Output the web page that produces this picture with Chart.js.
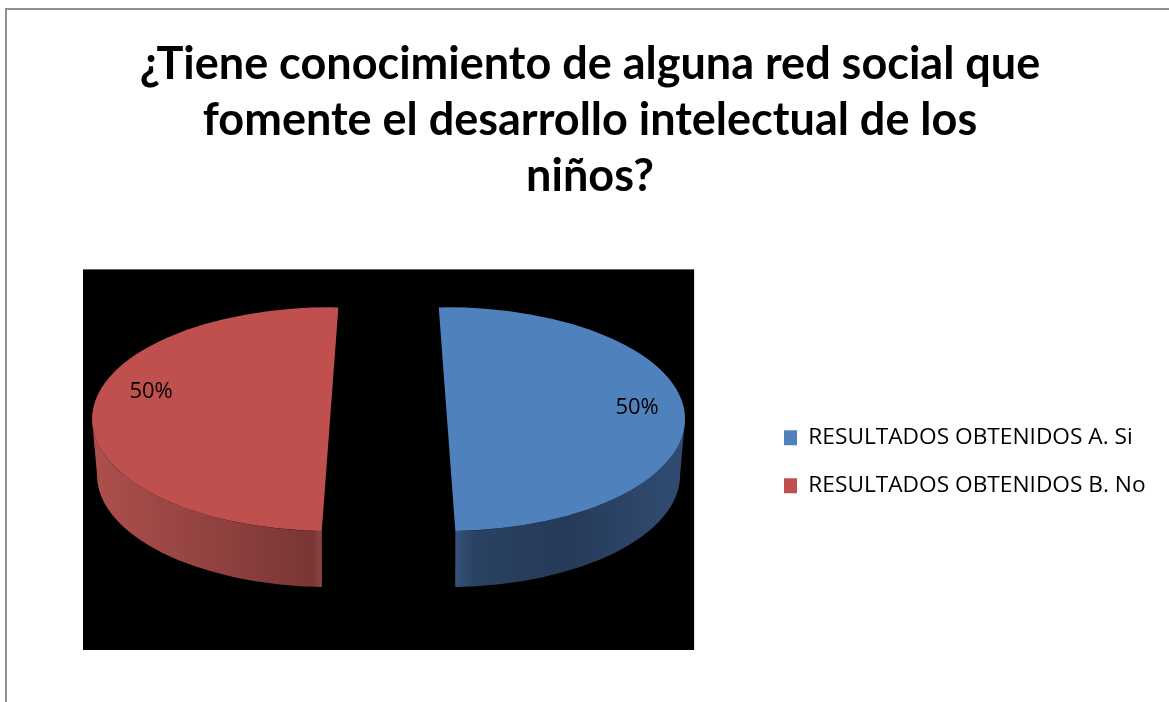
<!DOCTYPE html>
<html><head><meta charset="utf-8">
<style>html,body{margin:0;padding:0;background:#fff}#w{width:1169px;height:702px}</style>
<script src="https://cdn.jsdelivr.net/npm/chart.js@4"></script>
</head><body><div id="w"><canvas id="c"></canvas></div>
<script>
const titleLines = ['¿Tiene conocimiento de alguna red social que','fomente el desarrollo intelectual de los','niños?'];
const categories = ['RESULTADOS OBTENIDOS A. Si','RESULTADOS OBTENIDOS B. No'];
const seriesValues = [50,50];
const sliceColors = ['#4f81bd','#c0504d'];
const pctLabelShift = [[190,-11],[-179,-27]];
const wallStops = [
  [[0,'#2f4a6e'],[0.08,'#304b70'],[0.5,'#263a58'],[0.92,'#2a4162'],[1,'#35537c']],
  [[0,'#8e4341'],[0.04,'#7a3634'],[0.35,'#8a3f3d'],[0.75,'#a04947'],[1,'#ad4f4d']]
];
const sliceTilt = [-2*Math.PI/180, 2*Math.PI/180];
const SQ = 0.47, DEPTH = 56, RAD = 238, LOWER = 233, SHIFT_Y = -40.5, OFF = 58.5;
const LEGEND_GAP = 25.3;

const pie3d = {
  id:'pie3d',
  beforeDraw(chart){
    const c=chart.ctx,a=chart.chartArea;
    c.save();
    c.fillStyle='#fff';c.fillRect(0,0,chart.width,chart.height);
    c.fillStyle='#000';c.fillRect(a.left,a.top,a.right-a.left,a.bottom-a.top);
    c.strokeStyle='#8f8f8f';c.lineWidth=2;
    c.beginPath();c.moveTo(6,chart.height);c.lineTo(6,9);c.lineTo(chart.width,9);c.stroke();
    c.restore();
  },
  afterLayout(chart){
    const a=chart.chartArea;
    const dx=784-(a.right+LEGEND_GAP);
    chart.legend.left += dx; chart.legend.right += dx;
    chart.legend.top += 2; chart.legend.bottom += 2;
    chart.titleBlock.left += 3; chart.titleBlock.right += 3;
  },
  beforeDatasetsDraw(chart){
    const c=chart.ctx,a=chart.chartArea;
    const cx=(a.left+a.right)/2, cy=(a.top+a.bottom)/2, sy=cy+SHIFT_Y;
    const arcs=chart.getDatasetMeta(0).data;
    const centre=arc=>{const m=(arc.startAngle+arc.endAngle)/2;return [Math.cos(m)*OFF,Math.sin(m)*OFF];};
    arcs.forEach((arc,i)=>{
      const s=arc.startAngle+sliceTilt[i],e=arc.endAngle+sliceTilt[i],[dx,dy]=centre(arc);
      const ox=cx+dx, oy=sy+dy*SQ;
      const a0=Math.max(s,0), a1=Math.min(e,Math.PI);
      if(a1<=a0) return;
      const g=c.createLinearGradient(ox+Math.cos(a0)*RAD,0,ox+Math.cos(a1)*RAD,0);
      wallStops[i].forEach(st=>g.addColorStop(st[0],st[1]));
      c.save();
      c.fillStyle=g;
      c.beginPath();
      c.ellipse(ox,oy,RAD,RAD*SQ,0,a0,a1,false);
      c.ellipse(ox,oy+DEPTH,LOWER,RAD*SQ,0,a1,a0,true);
      c.closePath();c.fill();
      c.restore();
    });
    arcs.forEach((arc,i)=>{
      const [dx,dy]=centre(arc);
      c.save();
      c.translate(cx,sy);c.scale(1,SQ);
      c.translate(dx,dy);
      c.rotate(sliceTilt[i]);
      c.translate(-cx,-cy);
      arc.draw(c);
      c.restore();
    });
    const total=seriesValues.reduce((p,q)=>p+q,0);
    c.save();
    c.fillStyle='#000';c.font='22px "Open Sans"';c.textAlign='center';c.textBaseline='middle';
    arcs.forEach((arc,i)=>{
      const [dx,dy]=centre(arc);
      c.fillText(Math.round(seriesValues[i]/total*100)+'%',cx+dx+pctLabelShift[i][0],sy+dy*SQ+pctLabelShift[i][1]);
    });
    c.restore();
    return false;
  }
};

new Chart(document.getElementById('c'),{
  type:'pie',
  data:{labels:categories,datasets:[{data:seriesValues,backgroundColor:sliceColors,borderWidth:0,clip:false}]},
  options:{
    responsive:true,maintainAspectRatio:false,animation:false,
    radius:RAD,rotation:0,
    layout:{padding:{left:83,right:78,bottom:52,top:0}},
    plugins:{
      tooltip:{enabled:false},
      title:{display:true,text:titleLines,color:'#000',font:{family:'Lato',size:45,weight:'bold',lineHeight:1.24},padding:{top:37,bottom:65}},
      legend:{position:'right',fullSize:false,labels:{color:'#000',font:{family:'Open Sans',size:22.7},boxWidth:13,boxHeight:15,padding:LEGEND_GAP}}
    }
  },
  plugins:[pie3d]
});
</script></body></html>
